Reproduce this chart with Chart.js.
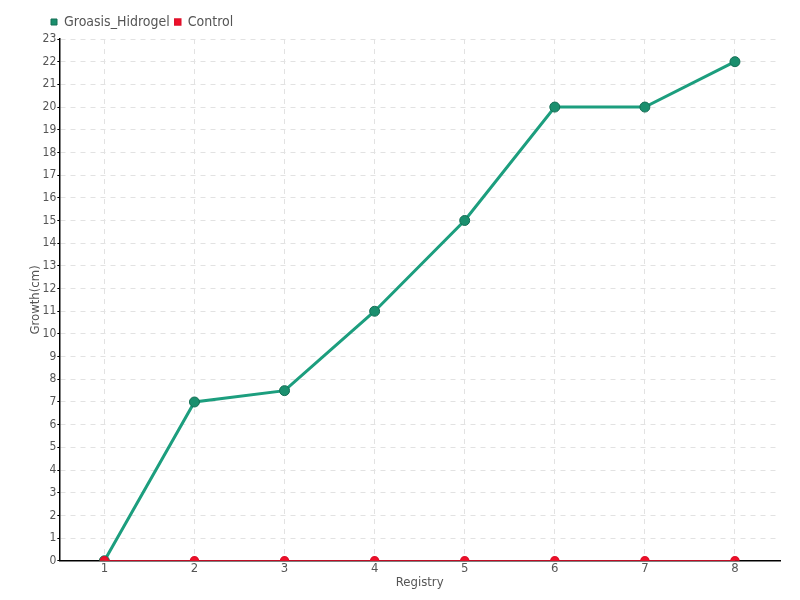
<!DOCTYPE html>
<html>
<head>
<meta charset="utf-8">
<script src="https://cdn.jsdelivr.net/npm/chart.js@4/dist/chart.umd.min.js"></script>
<style>
  html, body { margin: 0; padding: 0; background: #fff; }
  #wrap { width: 800px; height: 600px; }
</style>
</head>
<body>
<div id="wrap"><canvas id="growthChart" width="800" height="600"></canvas></div>
<script>
const registry = ["1", "2", "3", "4", "5", "6", "7", "8"];
const groasisHidrogel = [0, 7, 7.5, 11, 15, 20, 20, 22];
const control = [0, 0, 0, 0, 0, 0, 0, 0];

const fontFamily = "'DejaVu Sans Condensed', 'Liberation Sans Narrow', sans-serif";
Chart.defaults.font.family = fontFamily;
Chart.defaults.color = "#555";

// move the legend a bit to the right, like the original
const legendShift = {
  id: "legendShift",
  afterLayout(chart) {
    chart.legend.left += 18;
    chart.legend.right += 18;
  },
};

const ctx = document.getElementById("growthChart").getContext("2d");
new Chart(ctx, {
  type: "line",
  data: {
    labels: registry,
    datasets: [
      {
        label: "Groasis_Hidrogel",
        data: groasisHidrogel,
        borderColor: "#1c9e7e",
        backgroundColor: "#1c9e7e",
        pointBackgroundColor: "#1a8f6e",
        pointBorderColor: "#156e55",
        borderWidth: 3,
        pointRadius: 5,
        pointBorderWidth: 1,
        tension: 0,
        order: 1,
      },
      {
        label: "Control",
        data: control,
        borderColor: "#ff1030",
        backgroundColor: "#ff1030",
        pointBackgroundColor: "#f0102a",
        pointBorderColor: "#e0102a",
        borderWidth: 1.5,
        pointRadius: 4,
        tension: 0,
        order: 0,
      },
    ],
  },
  options: {
    responsive: false,
    animation: false,
    layout: { padding: { left: 28, right: 20, top: 10, bottom: 10 } },
    scales: {
      x: {
        offset: true,
        grid: {
          offset: false,
          color: "#e2e2e2",
          tickLength: 0,
        },
        border: { color: "#000", width: 1.5, dash: [5, 5] },
        ticks: { font: { size: 13 }, padding: 0, color: "#555" },
        title: { display: true, text: "Registry", font: { size: 13 }, padding: { top: -2, bottom: 0 }, color: "#555" },
      },
      y: {
        min: 0,
        max: 23,
        grid: {
          color: "#e2e2e2",
          tickLength: 2,
          tickColor: "#000",
          tickBorderDash: [],
        },
        border: { color: "#000", width: 1.5, dash: [5, 5] },
        ticks: { stepSize: 1, font: { size: 12 }, padding: 1, color: "#555" },
        title: { display: true, text: "Growth(cm)", font: { size: 13 }, padding: { top: 0, bottom: -2 }, color: "#555" },
      },
    },
    plugins: {
      legend: {
        display: true,
        position: "top",
        align: "start",
        labels: {
          usePointStyle: true,
          pointStyle: "rect",
          boxWidth: 6,
          boxHeight: 6,
          padding: 5,
          font: { size: 14 },
          color: "#555",
          sort: (a, b) => a.datasetIndex - b.datasetIndex,
        },
      },
      tooltip: { enabled: false },
    },
  },
  plugins: [legendShift],
});
</script>
</body>
</html>
